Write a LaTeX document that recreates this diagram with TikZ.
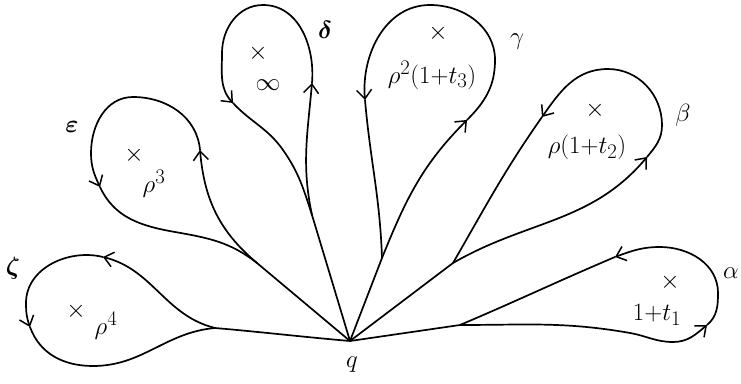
\documentclass[tikz,border=0pt]{standalone}
\usepackage{bm}
\usetikzlibrary{arrows.meta}
\begin{document}
\begin{tikzpicture}[x=1pt,y=1pt,line width=1.7pt,line cap=round,line join=round,
  arr/.style={-{Straight Barb[length=9pt,width=15pt,line width=1.5pt]}},
  lbl/.style={font=\fontsize{24.88}{28}\selectfont,inner sep=0pt},
  cross/.style={font=\fontsize{24.88}{28}\selectfont,inner sep=0pt}]
\useasboundingbox (0,0) rectangle (741,383);
\coordinate (q) at (350,42);
% zeta loop
\coordinate (mz) at (215,55);
\draw (q) to[out=175,in=-5] (mz);
\draw[arr] (mz) to[out=166,in=-14] (103,126);
\draw (103,126) to[out=166,in=90] (26,80);
\draw[arr] (26,80) to[out=270,in=110] (30,56);
\draw (30,56) to[out=290,in=180] (93,17) to[out=0,in=185] (mz);
% epsilon loop
\coordinate (me) at (257,120);
\draw (q) -- (me);
\draw[arr] (me) to[out=140,in=-85] (200,233);
\draw (200,233) to[out=95,in=0] (133,286) to[out=180,in=90] (91,230);
\draw[arr] (91,230) to[out=270,in=115] (100,196);
\draw (100,196) to[out=295,in=170] (175,151) to[out=-10,in=142] (me);
% delta loop
\coordinate (md) at (312,168);
\draw (q) -- (md);
\draw[arr] (md) to[out=102,in=-95] (312,300);
\draw (312,300) to[out=85,in=0] (263,378) to[out=180,in=90] (222,330);
\draw[arr] (222,330) to[out=270,in=133] (233,280);
\draw (233,280) to[out=-47,in=125] (283,233) to[out=-55,in=108] (md);
% gamma loop
\coordinate (mg) at (382,125);
\draw (q) -- (mg);
\draw[arr] (mg) to[out=68,in=-135] (467,263);
\draw (467,263) to[out=45,in=-90] (495,323) to[out=90,in=0] (430,378);
\draw[arr] (430,378) to[out=180,in=95] (365,283);
\draw (365,283) to[out=-85,in=92] (mg);
% beta loop
\coordinate (mb) at (453,120);
\draw (q) -- (mb);
\draw[arr] (mb) to[out=30,in=-130] (647,226);
\draw (647,226) to[out=50,in=-90] (662,258) to[out=90,in=0] (608,314);
\draw[arr] (608,314) to[out=180,in=55] (542,266);
\draw (542,266) to[out=235,in=60] (mb);
% alpha loop
\coordinate (ma) at (460,58);
\draw (q) -- (ma);
\draw (ma) to[out=0,in=170] (630,50) to[out=-10,in=180] (673,41);
\draw[arr] (673,41) to[out=0,in=-140] (707,58);
\draw (707,58) to[out=40,in=-90] (718,90) to[out=90,in=0] (660,136);
\draw[arr] (660,136) to[out=180,in=20] (615,126);
\draw (615,126) to[out=203,in=23] (ma);
% labels
\node[lbl] (lq) at (352,18) {$q$};
\node[lbl] (lz) at (13,115) {$\bm{\zeta}$};
\node[lbl] (le) at (72,256) {$\bm{\varepsilon}$};
\node[lbl] (ld) at (325,353) {$\bm{\delta}$};
\node[lbl] (lg) at (517,341) {$\gamma$};
\node[lbl] (lb) at (683,268) {$\beta$};
\node[lbl] (la) at (731,110) {$\alpha$};
\node[cross] (xz) at (76,72) {$\times$};
\node[cross] (xe) at (134,228) {$\times$};
\node[cross] (xd) at (258,330) {$\times$};
\node[cross] (xg) at (438,350) {$\times$};
\node[cross] (xb) at (595,273) {$\times$};
\node[cross] (xa) at (670,101) {$\times$};
\node[lbl] (vz) at (106,57) {$\rho^4$};
\node[lbl] (ve) at (154,199) {$\rho^3$};
\node[lbl] (vd) at (268,298) {$\infty$};
\node[lbl] (vg) at (432,308) {$\rho^2(1{+}t_3)$};
\node[lbl] (vb) at (587,236) {$\rho(1{+}t_2)$};
\node[lbl] (va) at (657,68) {$1{+}t_1$};
\end{tikzpicture}
\end{document}
